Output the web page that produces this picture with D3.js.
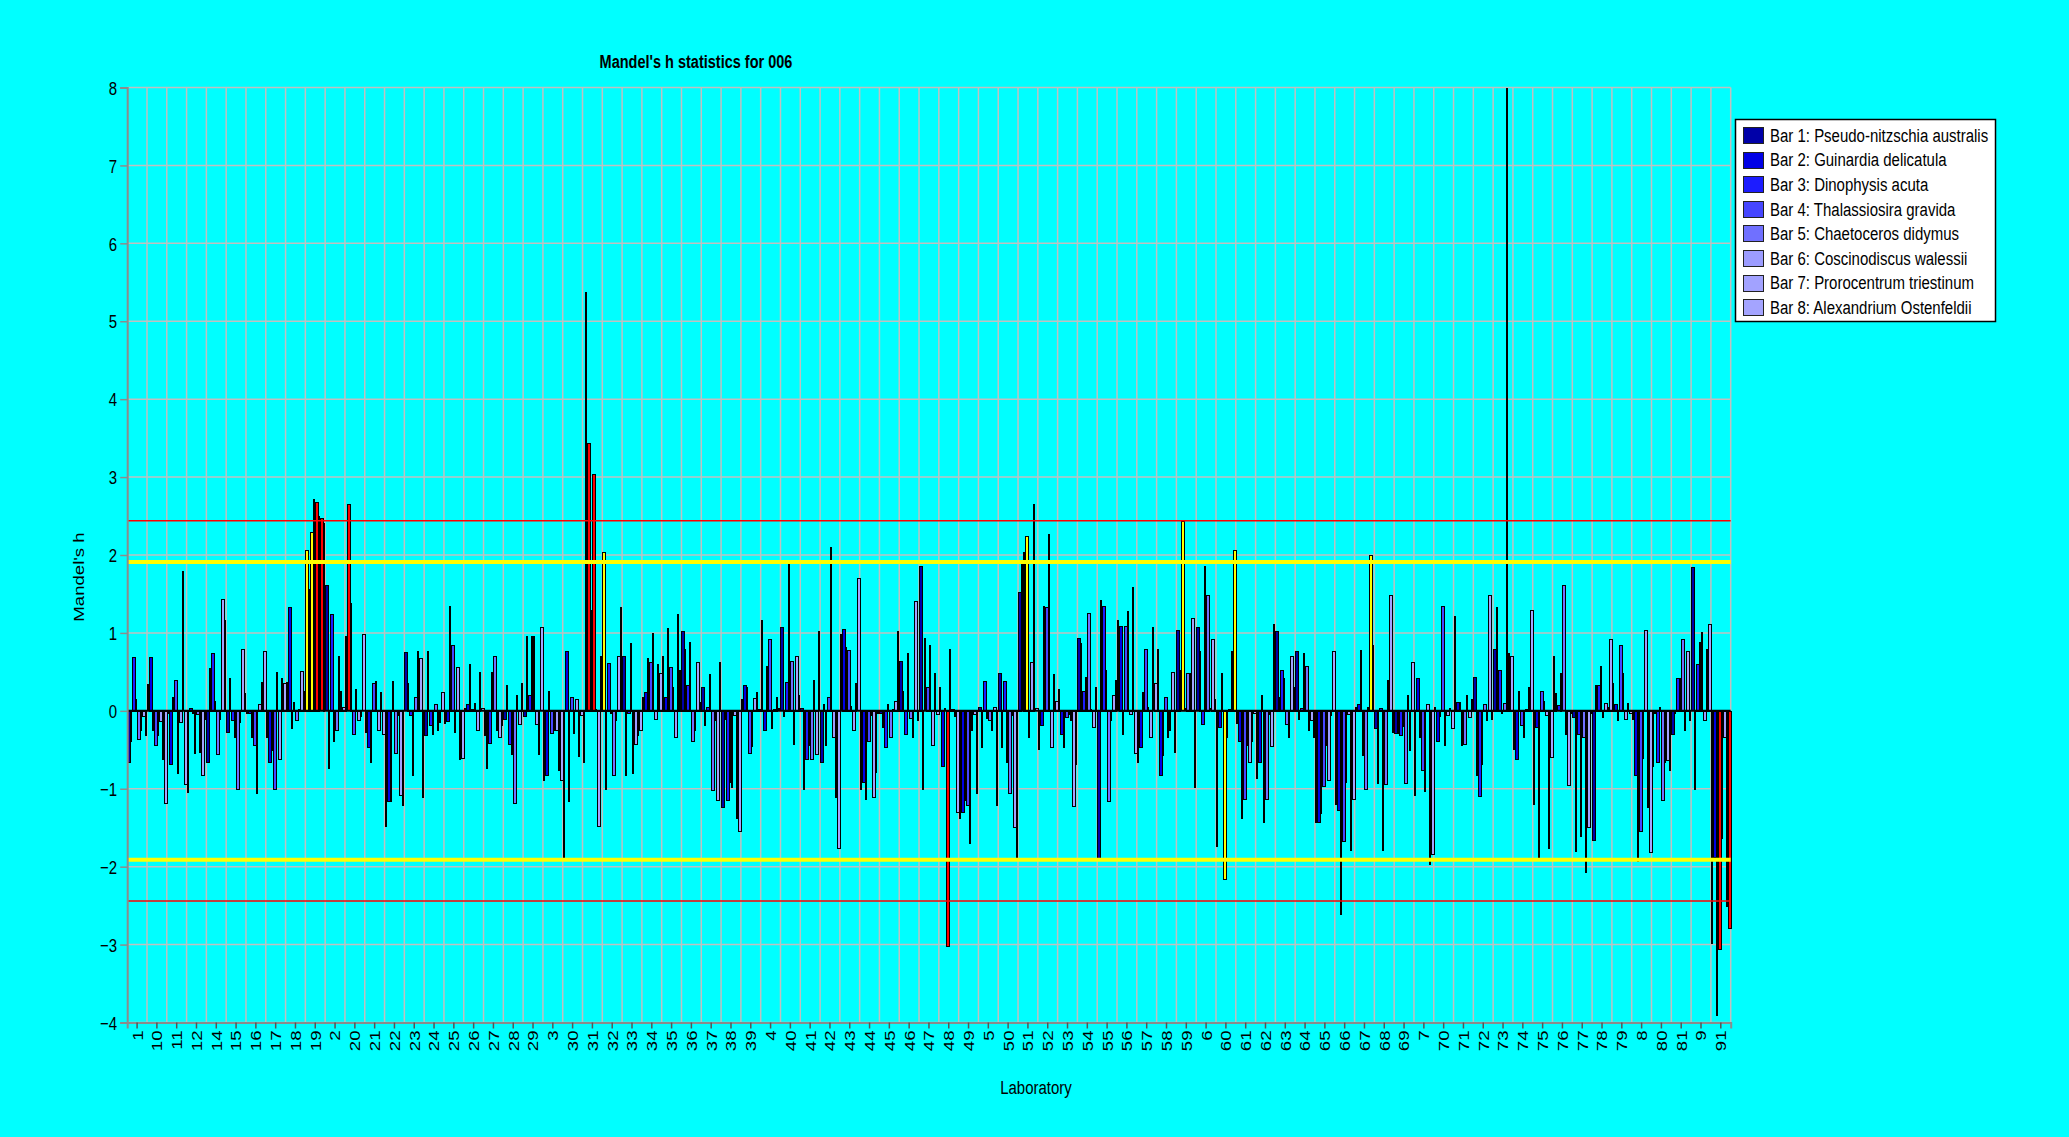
<!DOCTYPE html>
<html>
<head>
<meta charset="utf-8">
<script src="https://cdn.jsdelivr.net/npm/d3@7"></script>
<style>
  html, body { margin: 0; padding: 0; background: #00FFFF; }
  svg { display: block; }
  text { font-family: "Liberation Sans", Arial, sans-serif; fill: #000; }
</style>
</head>
<body>
<svg id="chart" width="2069" height="1137"></svg>
<script>
// Laboratories, in the order the software lists them (string sort)
const labs = ['1','10','11','12','14','15','16','17','18','19','2','20','21','22','23','24','25','26','27','28','29',
  '3','30','31','32','33','34','35','36','37','38','39','4','40','41','42','43','44','45','46','47','48','49',
  '5','50','51','52','53','54','55','56','57','58','59','6','60','61','62','63','64','65','66','67','68','69',
  '7','70','71','72','73','74','75','76','77','78','79','8','80','81','9','91'];

// Taxa counted by every laboratory (one bar each per lab)
const species = [
  'Pseudo-nitzschia australis', 'Guinardia delicatula', 'Dinophysis acuta', 'Thalassiosira gravida',
  'Chaetoceros didymus', 'Coscinodiscus walessii', 'Prorocentrum triestinum', 'Alexandrium Ostenfeldii'
];
const seriesColors = ['#0000A8', '#0000E6', '#1C1CFF', '#4646FF', '#7070FF', '#9C9CFF', '#A2A2FF', '#A4A4FF'];

// Mandel's h per laboratory, bars 1..8
const hByLab = [
  [-0.65,-0.38, 0.69, 0.15,-0.36,-0.25,-0.06,-0.31],
  [ 0.34, 0.69,-0.25,-0.44,-0.31,-0.13,-0.61,-1.18],
  [-0.02,-0.68, 0.18, 0.40,-0.80,-0.14, 1.79,-0.94],
  [-1.04, 0.04,-0.02,-0.54,-0.04,-0.53,-0.82,-0.10],
  [-0.66, 0.55, 0.74, 0.13,-0.55,-0.10, 1.44, 1.17],
  [-0.27, 0.42,-0.12,-0.34,-1.00,-0.14, 0.80, 0.23],
  [-0.03,-0.02,-0.33,-0.44,-1.05, 0.09, 0.37, 0.77],
  [-0.33,-0.65,-0.50,-1.00, 0.50,-0.62, 0.42, 0.36],
  [ 0.37, 1.33,-0.22, 0.11,-0.12, 0.02, 0.51, 0.26],
  [ 2.07, 1.56, 2.30, 2.72, 2.68, 2.50, 2.47, 2.41],
  [ 1.61,-0.73, 1.24,-0.38,-0.25, 0.70, 0.26, 0.05],
  [ 0.96, 2.65, 1.39,-0.30, 0.28,-0.12,-0.06, 0.98],
  [-0.27,-0.46,-0.65, 0.36, 0.38,-0.24, 0.24,-0.29],
  [-1.48,-1.16,-1.15, 0.38,-0.54,-0.05,-1.08,-1.20],
  [ 0.75, 0.36,-0.05,-0.82, 0.18, 0.77, 0.68,-1.10],
  [-0.31, 0.77,-0.18,-0.29, 0.09,-0.24,-0.14, 0.24],
  [-0.15,-0.13, 1.35, 0.85,-0.27, 0.56,-0.61,-0.60],
  [ 0.04, 0.09, 0.60, 0.02, 0.10,-0.25, 0.50, 0.03],
  [-0.31,-0.73,-0.41, 0.50, 0.71,-0.25,-0.34,-0.18],
  [-0.10, 0.33,-0.42,-0.55,-1.18, 0.20,-0.17, 0.36],
  [-0.06, 0.96, 0.20, 0.96, 0.96,-0.17,-0.55, 1.07],
  [-0.89,-0.82, 0.26,-0.28,-0.24,-0.24,-0.76,-0.89],
  [-1.88, 0.77,-1.16, 0.18,-0.28, 0.15,-0.58,-0.05],
  [-0.65, 5.38, 3.44, 1.30, 3.04, 0.02,-1.48, 0.71],
  [ 2.04,-1.00, 0.62,-0.02,-0.82,-0.12, 0.71, 1.33],
  [ 0.71,-0.82,-0.03, 0.87,-0.80,-0.42,-0.31,-0.25],
  [ 0.18, 0.24, 0.68, 0.63, 1.00,-0.10, 0.60, 0.49],
  [ 0.71, 0.18, 1.06, 0.56, 0.31,-0.34, 1.24, 0.52],
  [ 1.03, 0.79, 0.33, 0.88,-0.39,-0.24, 0.63, 0.11],
  [ 0.31,-0.18, 0.05, 0.47,-1.01,-0.12,-1.14, 0.63],
  [-1.23,-0.10,-1.14,-0.91,-0.98,-0.05,-1.37,-1.54],
  [ 0.15, 0.33, 0.31,-0.54,-0.45, 0.17, 0.24, 0.02],
  [ 1.17,-0.24, 0.58, 0.92,-0.22, 0.02, 0.18, 0.03],
  [ 1.07,-0.06, 0.37, 1.94, 0.64,-0.42, 0.71, 0.20],
  [ 0.04,-1.00,-0.62,-0.44,-0.61, 0.40,-0.55, 1.02],
  [-0.66, 0.09,-0.44, 0.18, 2.10,-0.34,-1.10,-1.76],
  [ 0.98, 1.05, 0.82, 0.78, 0.06,-0.24, 0.36, 1.70],
  [-1.00,-0.91,-1.13,-0.38,-0.05,-1.10,-0.78,-0.02],
  [-0.02,-0.20,-0.46, 0.09,-0.33, 0.02, 0.13, 1.03],
  [ 0.64, 0.26,-0.29, 0.74,-0.09,-0.34, 1.41,-0.12],
  [ 1.86,-1.00, 0.93, 0.31, 0.85,-0.44, 0.49,-0.04],
  [ 0.31,-0.70, 0.03,-3.02, 0.80, 0.02,-0.06,-1.29],
  [-1.37,-1.29,-1.14,-1.20,-1.70,-0.25,-0.04,-1.05],
  [ 0.05,-0.46, 0.38,-0.09,-0.12,-0.24, 0.05,-1.20],
  [ 0.49,-0.46, 0.38,-0.65,-1.05,-0.05,-1.49,-1.90],
  [ 1.53, 1.93, 2.04, 2.24,-0.34, 0.63, 2.66, 0.03],
  [-0.49,-0.18, 1.35, 1.33, 2.27,-0.46, 0.47, 0.13],
  [ 0.28,-0.29,-0.46,-0.08,-0.04,-0.12,-1.22,-0.68],
  [ 0.94, 0.87, 0.26, 0.44, 1.26, 0.02,-0.20, 0.31],
  [-1.90, 1.42, 1.35, 0.53,-1.16,-0.12, 0.20, 0.40],
  [ 1.16, 1.09,-0.29, 1.09, 1.28,-0.04, 1.59,-0.54],
  [-0.65,-0.46, 0.24, 0.80, 0.05,-0.34, 1.07, 0.36],
  [ 0.79,-0.82,-0.57, 0.18,-0.33,-0.25, 0.50,-0.52],
  [ 1.04, 0.52, 2.43, 0.03, 0.49, 0.49, 1.19,-0.98],
  [ 1.07, 0.77,-0.17, 1.86, 1.49, 0.03, 0.92, 0.15],
  [-1.73,-0.20, 0.49,-2.15,-0.34, 0.02, 0.77, 2.06],
  [-0.15,-0.38,-1.37,-1.13,-0.44,-0.66,-0.38,-0.02],
  [-0.86,-0.65, 0.20,-1.42,-1.13,-0.04,-0.45, 1.12],
  [ 1.03, 0.18, 0.52, 0.42,-0.17,-0.34, 0.71, 0.31],
  [ 0.77,-0.10, 0.04, 0.74, 0.58,-0.24,-0.12,-0.33],
  [-1.43,-1.42,-1.31,-0.96,-0.44,-0.89,-0.05, 0.77],
  [-1.19,-1.27,-2.61,-1.67,-0.91,-0.04,-1.78,-1.13],
  [ 0.05, 0.09, 0.78,-0.57,-1.00, 0.05, 2.00, 0.85],
  [-0.22,-0.92, 0.04,-1.79,-0.94, 0.40, 1.49,-0.27],
  [-0.28,-0.28,-0.31,-0.19,-0.92, 0.20,-0.50, 0.63],
  [-1.08, 0.42,-0.34,-0.76,-1.03, 0.09,-1.97,-1.83],
  [ 0.05,-0.38,-0.07, 1.35,-0.44,-0.05, 0.03,-0.22],
  [ 1.22, 0.11, 0.11,-0.44,-0.42, 0.20,-0.08, 0.15],
  [ 0.44,-0.82,-1.09,-0.68, 0.09,-0.12, 1.49,-0.10],
  [ 0.80, 1.33, 0.52,-0.03, 0.10, 8.00, 0.74, 0.71],
  [-0.49,-0.61, 0.26,-0.18,-0.33, 0.02, 0.31, 1.30],
  [-1.19,-0.20,-1.91, 0.26, 0.13,-0.05,-1.76,-0.59],
  [ 0.70, 0.23, 0.07, 0.49, 1.61,-0.29,-0.95,-0.03],
  [-0.08,-1.80,-0.29,-1.61,-0.34,-2.07,-1.49,-0.03],
  [-1.65, 0.33, 0.33, 0.58,-0.08, 0.10, 0.05, 0.92],
  [ 0.36, 0.09,-0.12, 0.85, 0.49,-0.10, 0.10,-0.02],
  [-0.10,-0.82,-1.93,-1.54,-0.60, 1.04,-1.23,-1.81],
  [-0.70,-0.03,-0.66, 0.05,-1.14,-0.65,-0.63,-0.76],
  [-0.29,-0.03, 0.42, 0.42, 0.92,-0.25, 0.77,-0.12],
  [ 1.84,-1.00, 0.60, 0.88, 1.01,-0.12, 0.80, 1.12],
  [-2.98,-1.88,-3.90,-3.05,-1.63,-0.34,-2.50,-2.79]
];

const yTicks = d3.range(-4, 9);       // -4 .. 8
const hCrit5 = 1.91;                  // 5 % indicator (yellow)
const hCrit1 = 2.44;                  // 1 % indicator (red)

// ---------------------------------------------------------------
const svg = d3.select('#chart');
const plot = { left: 127.2, right: 1730.7, top: 87.5, bottom: 1022.5 };
const TS = 1.24;    // vertical stretch of all lettering
const FS = 15;      // base font size

const x = d3.scaleBand().domain(labs).range([plot.left, plot.right]).paddingInner(0).paddingOuter(0);
const xs = d3.scaleBand().domain(d3.range(species.length)).range([0, x.bandwidth()]).padding(0);
const y = d3.scaleLinear().domain([-4, 8]).range([plot.bottom, plot.top]);

function stretch(sel, px, py, rotated) {
  return sel.attr('transform', `translate(${px},${py}) scale(1,${TS})` + (rotated ? ' rotate(-90)' : ''));
}

// grid
const grid = svg.append('g');
grid.selectAll('line.h').data(yTicks).join('line')
  .attr('x1', plot.left).attr('x2', plot.right)
  .attr('y1', d => y(d)).attr('y2', d => y(d))
  .attr('stroke', '#C0C0C0').attr('stroke-width', 1.5);
grid.selectAll('line.v').data(labs.slice(1).concat(['__end'])).join('line')
  .attr('x1', d => d === '__end' ? plot.right : x(d))
  .attr('x2', d => d === '__end' ? plot.right : x(d))
  .attr('y1', plot.top).attr('y2', plot.bottom)
  .attr('stroke', '#C0C0C0').attr('stroke-width', 1.5);

// bars, snapped to whole pixels: a 2-px slot is drawn as a bare outline,
// wider slots reach over the neighbour's edge so that their fill shows
const barColor = (v, s) => Math.abs(v) >= hCrit1 ? '#FF0000' : (Math.abs(v) >= hCrit5 ? '#FFFF00' : seriesColors[s]);
const barData = [];
labs.forEach((lab, i) => hByLab[i].forEach((v, s) => barData.push({ lab, s, v })));
const edge0 = d => Math.round(x(d.lab) + xs(d.s));
const edge1 = d => Math.round(x(d.lab) + xs(d.s) + xs.bandwidth());
const slot = d => edge1(d) - edge0(d);
svg.append('g').attr('shape-rendering', 'crispEdges')
  .selectAll('rect').data(barData).join('rect')
  .attr('x', d => edge0(d) + 0.5)
  .attr('width', d => slot(d) <= 2 ? 1 : slot(d))
  .attr('y', d => Math.round(Math.min(y(d.v), y(0))) + 0.5)
  .attr('height', d => Math.max(1, Math.round(Math.abs(y(d.v) - y(0)))))
  .attr('fill', d => barColor(d.v, d.s))
  .attr('stroke', '#000').attr('stroke-width', 1);

// zero line
svg.append('line')
  .attr('x1', plot.left).attr('x2', plot.right).attr('y1', y(0)).attr('y2', y(0))
  .attr('stroke', '#000').attr('stroke-width', 2);

// critical h lines
const lines = svg.append('g');
[hCrit5, -hCrit5].forEach(v => lines.append('line')
  .attr('x1', plot.left).attr('x2', plot.right).attr('y1', y(v)).attr('y2', y(v))
  .attr('stroke', '#FFFF00').attr('stroke-width', 4));
[hCrit1, -hCrit1].forEach(v => lines.append('line')
  .attr('x1', plot.left).attr('x2', plot.right).attr('y1', y(v)).attr('y2', y(v))
  .attr('stroke', '#FF0000').attr('stroke-width', 1.5));

// y axis
const yAxis = svg.append('g').attr('transform', `translate(${plot.left},0)`)
  .call(d3.axisLeft(y).tickValues(yTicks).tickSize(7).tickPadding(0).tickFormat(d3.format('d')));
yAxis.select('.domain').attr('stroke', '#8C8C8C').attr('stroke-width', 2);
yAxis.selectAll('.tick line').attr('stroke', '#8C8C8C').attr('stroke-width', 1.5);
yAxis.selectAll('.tick text')
  .attr('x', null).attr('dy', '0.36em')
  .attr('font-size', FS).attr('text-anchor', 'end')
  .each(function () { stretch(d3.select(this), -10, 0, false); });

// x axis
const xAxis = svg.append('g').attr('transform', `translate(0,${plot.bottom})`)
  .call(d3.axisBottom(x).tickSize(6).tickPadding(0));
xAxis.select('.domain').attr('stroke', '#8C8C8C').attr('stroke-width', 2);
xAxis.selectAll('.tick line').attr('stroke', '#555').attr('stroke-width', 1.5);
xAxis.selectAll('.tick text')
  .attr('y', null).attr('dy', '0.36em')
  .attr('font-size', FS).attr('text-anchor', 'end')
  .each(function () { stretch(d3.select(this), 0, 8, true); });

// titles
stretch(svg.append('text'), 696, 68, false)
  .attr('text-anchor', 'middle').attr('font-size', 14.5).attr('font-weight', 'bold')
  .text("Mandel's h statistics for 006");
stretch(svg.append('text'), 79, 577, true)
  .attr('text-anchor', 'middle').attr('dy', '0.36em').attr('font-size', FS)
  .text("Mandel's h");
stretch(svg.append('text'), 1036, 1087, false)
  .attr('text-anchor', 'middle').attr('dy', '0.36em').attr('font-size', FS)
  .text('Laboratory');

// legend
const legend = svg.append('g');
legend.append('rect')
  .attr('x', 1735.5).attr('y', 119.5).attr('width', 260).attr('height', 202)
  .attr('fill', '#FFFFFF').attr('stroke', '#000').attr('stroke-width', 1.5);
const rowY = d3.scaleLinear().domain([0, 7]).range([135, 307.3]);
species.forEach((name, s) => {
  legend.append('rect')
    .attr('x', 1743.5).attr('y', Math.round(rowY(s) - 8) + 0.5).attr('width', 20).attr('height', 16)
    .attr('fill', seriesColors[s]).attr('stroke', '#222').attr('stroke-width', 1);
  stretch(legend.append('text'), 1770, rowY(s), false)
    .attr('dy', '0.36em').attr('font-size', FS)
    .text(`Bar ${s + 1}: ${name}`);
});
</script>
</body>
</html>
